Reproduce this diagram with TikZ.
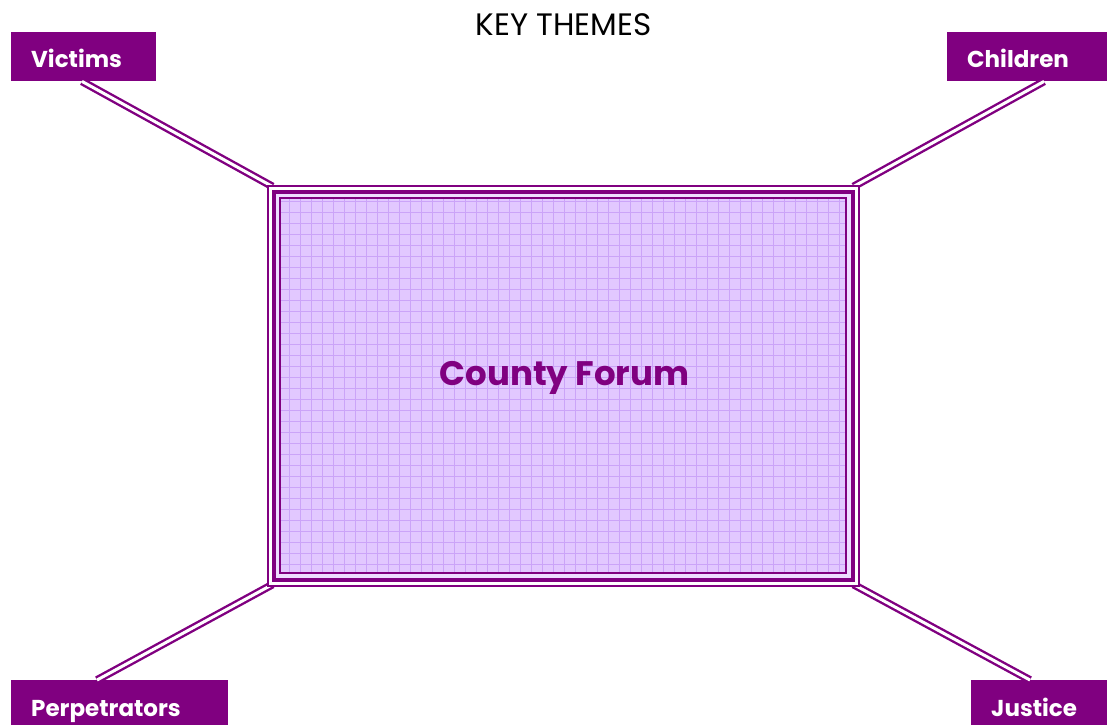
\documentclass[tikz,border=0pt]{standalone}
\usepackage{fontspec}
\setmainfont{Poppins}
\definecolor{plum}{HTML}{800080}
\definecolor{lav}{HTML}{E2C8FF}
\definecolor{lavlight}{HTML}{EEDDFF}
\definecolor{gridc}{HTML}{CBA4F8}
\begin{document}
\begin{tikzpicture}[x=1pt,y=-1pt,
  tagbox/.style={fill=plum, draw=none, minimum width=#1, minimum height=49, anchor=north west, inner sep=0},
  taglabel/.style={text=white, font=\bfseries\fontsize{23}{27}\selectfont, anchor=base west, inner sep=0},
  dbl/.style={draw=plum, line width=2.4pt, double=white, double distance=3pt, line cap=butt},
  forumbox/.style={draw=plum, line width=2pt, fill=white, minimum width=589, minimum height=398, inner sep=0},
  gridline/.style={draw=gridc, line width=0.8pt}]
\useasboundingbox (0,0) rectangle (1107,724);

% theme boxes
\node[tagbox=145] (victims) at (11,32) {};
\node[tagbox=165] (children) at (947,32) {};
\node[tagbox=217] (perp) at (11,680) {};
\node[tagbox=140] (justice) at (971,680) {};

% forum frame
\node[forumbox] (forum) at (563,385.5) {};

% connectors
\coordinate (fnw) at ([xshift=5,yshift=-1]forum.north west);
\coordinate (fne) at ([xshift=-5,yshift=-1]forum.north east);
\coordinate (fsw) at ([xshift=5,yshift=1]forum.south west);
\coordinate (fse) at ([xshift=-5,yshift=1]forum.south east);
\draw[dbl] ([xshift=71]victims.south west) -- (fnw);
\draw[dbl] ([xshift=97]children.south west) -- (fne);
\draw[dbl] ([xshift=86]perp.north west) -- (fsw);
\draw[dbl] ([xshift=59]justice.north west) -- (fse);

% redraw frame on top
\draw[plum, line width=2pt, fill=white] (forum.north west) rectangle (forum.south east);
\draw[plum, line width=4pt, fill=lavlight] (273.5,191.5) rectangle (852.5,579.5);
\fill[lav] (280,198) rectangle (846,573);
\foreach \gx in {289,300,...,845} \draw[gridline] (\gx,198) -- (\gx,573);
\foreach \gy in {201,212,...,572} \draw[gridline] (280,\gy) -- (846,\gy);
\draw[plum, line width=2pt] (280,198) rectangle (846,573);

% texts
\node[anchor=base, inner sep=0, font=\fontsize{31}{36}\selectfont] (title) at (563.5,35) {KEY THEMES};
\node[anchor=base, inner sep=0, text=plum, font=\bfseries\fontsize{34}{40}\selectfont] (forumlabel) at (564.5,385) {County Forum};
\node[taglabel] (victimst) at (31,67) {Victims};
\node[taglabel] (childrent) at (967,67) {Children};
\node[taglabel] (perpt) at (31,716) {Perpetrators};
\node[taglabel] (justicet) at (991,716) {Justice};
\end{tikzpicture}
\end{document}
